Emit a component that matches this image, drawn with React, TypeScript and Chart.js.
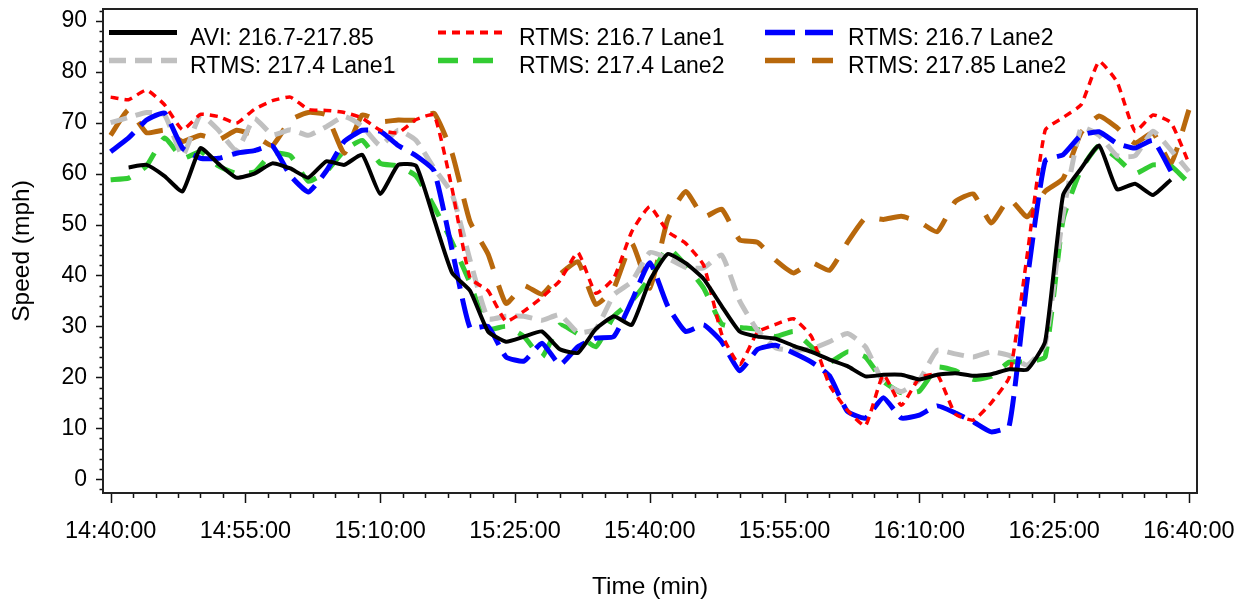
import React, { useEffect, useRef } from "react";
import { Chart, registerables } from "chart.js";

Chart.register(...registerables);

// Sample times, minutes after 14:40:00
const times = [
  0, 2, 4, 6, 8, 10, 12, 14, 16, 18,
  20, 22, 24, 26, 28, 30, 32, 34, 36, 38,
  40, 42, 44, 46, 48, 50, 52, 54, 56, 58,
  60, 62, 64, 66, 68, 70, 72, 74, 76, 78,
  80, 82, 84, 86, 88, 90, 92, 94, 96, 98,
  100, 102, 104, 106, 108, 110, 112, 114, 116, 118,
  120,
];

// Axis tick values
const timeTicks = [0, 15, 30, 45, 60, 75, 90, 105, 120];
const speedTicks = [0, 10, 20, 30, 40, 50, 60, 70, 80, 90];

// Speeds (mph)
const aviSpeed = [
  null, 61.2, 61.7, 59.5, 56.5, 65, 61.9, 59.2, 60, 62,
  61, 59.2, 62.4, 61.7, 63.7, 56, 61.7, 61.5, 51, 40.5,
  37, 29, 27, 28, 29, 25.5, 24.8, 29.5, 32, 30.3,
  39, 44.2, 42.4, 39.3, 34, 29, 28, 27.6, 26.2, 25,
  23.5, 22.2, 20.2, 20.5, 20.5, 19.6, 20.5, 20.8, 20.3, 20.6,
  21.6, 21.5, 27, 55.8, 61, 65.5, 56.9, 58, 55.8, 58.8,
  null,
];

const rtms2167Lane1 = [
  75, 74.5, 76.4, 73.5, 68.6, 71.6, 71.2, 69.9, 72.6, 74.3,
  75, 72.6, 72.4, 72, 70.9, 68.5, 68, 70.6, 71.5, 57,
  39.5, 37, 31, 33, 35.7, 39, 44.5, 36.5, 39.5, 48.6,
  53.5, 48.6, 46.3, 42, 28.5, 22.5, 28.9, 30.4, 31.5, 28,
  18.5, 13.5, 10.5, 20.5, 14.5, 19.9, 20.5, 12.8, 11.6, 15,
  20, 44, 68.5, 71, 73.5, 82, 78, 68.3, 71.5, 70,
  62,
];

const rtms2167Lane2 = [
  64.3, 67, 70.5, 71.9, 65, 63, 63, 64, 64.5, 65.4,
  59.6, 56.4, 60.5, 66.3, 68.5, 68.3, 65.5, 63.5, 60.5, 45,
  29.7, 30, 24, 23.2, 26.7, 22.5, 26, 27.7, 28, 35,
  42.5, 34, 29, 30.3, 27, 21.3, 25.5, 26.3, 24.8, 23,
  20.3, 13.3, 12, 16, 12, 12.6, 14.4, 13, 11.3, 9.3,
  10.5, 39, 62.5, 63.7, 67.5, 68.2, 65.9, 65, 66.5, 60.5,
  null,
];

const rtms2174Lane1 = [
  70, 71, 72, 71.5, 63.5, 71.5, 68.5, 64.5, 70.8, 67.6,
  68.6, 67.5, 69.2, 71.2, 69.3, 65.5, 68.5, 66.5, 61, 56,
  43, 31.5, 32, 32, 31.2, 32.3, 28.8, 29.5, 36.2, 38.8,
  44.5, 43.4, 41.6, 41.5, 44, 35, 29.2, 25.8, 25.3, 25.6,
  27, 28.6, 26, 19, 17.2, 19.5, 25.3, 24.6, 24, 25,
  24.3, 22.4, 26.5, 52, 69, 67.5, 63.5, 63.5, 68.3, 64.6,
  60.4,
];

const rtms2174Lane2 = [
  58.8, 59.1, 61.5, 67, 63, 64.3, 61.5, 60, 60.3, 64,
  63.5, 58.5, 60.4, 64.5, 66.5, 62, 61.5, 59.5, 53.5, 46.5,
  38.5, 29.5, 30, 28, 24, 30.3, 28.5, 26, 32, 35,
  39.5, 45.4, 42, 37.5, 30.5, 29.8, 29.4, 28, 29, 26,
  23, 25, 24, 19.2, 17, 17.3, 22, 21.3, 19.6, 20.2,
  23, 23, 24, 51, 60.8, 65.5, 63, 60, 61.7, 61.5,
  58.1,
];

const rtms21785Lane2 = [
  67.5, 72.5, 68, 68.5, 66.3, 67.5, 66.6, 68.5, 67.5, 65.5,
  70.5, 72, 71.5, 64, 71.5, 70.2, 70.5, 70.5, 71.8, 64,
  50.5, 44.2, 34.5, 38, 36.3, 40.2, 42.7, 34.3, 37.5, 46.3,
  37.5, 51, 56.5, 51.5, 53, 47, 46.5, 43, 40.5, 42.5,
  41, 46.5, 51.3, 51, 51.6, 50.5, 48.6, 54.5, 56, 50.3,
  55, 51.5, 56.5, 59, 68, 71.3, 69, 66, 68, 62,
  72.5,
];

const seriesLabels = [
  "AVI: 216.7-217.85",
  "RTMS: 216.7 Lane1",
  "RTMS: 216.7 Lane2",
  "RTMS: 217.4 Lane1",
  "RTMS: 217.4 Lane2",
  "RTMS: 217.85 Lane2",
];
const seriesData = [aviSpeed, rtms2167Lane1, rtms2167Lane2, rtms2174Lane1, rtms2174Lane2, rtms21785Lane2];
const seriesColors = ["#000000", "#ff0000", "#0000ff", "#c0c0c0", "#33cc33", "#b8680c"];
const seriesWidths = [4, 3.5, 5, 5, 5, 5];
const seriesDashes: number[][] = [[], [8, 6], [30, 10], [17, 9], [20, 15], [30, 17]];

const FONT = "'Liberation Sans', Arial, sans-serif";

function clockLabel(minutes: number): string {
  const total = 14 * 60 + 40 + minutes;
  const h = Math.floor(total / 60);
  const m = total % 60;
  return `${h}:${String(m).padStart(2, "0")}:00`;
}

// Keep the plot box where it is; labels have room outside it
function clearScalePadding(scale: any) {
  scale.paddingLeft = 0;
  scale.paddingRight = 0;
  scale.paddingTop = 0;
  scale.paddingBottom = 0;
}

// Frame, tick marks and the in-plot legend
const framePlugin = {
  id: "frameAndLegend",
  afterDraw(chart: any) {
    const { ctx, chartArea: a, scales } = chart;
    const xs = scales.x;
    const ys = scales.y;
    ctx.save();
    ctx.strokeStyle = "#111";
    ctx.lineWidth = 1.5;
    ctx.setLineDash([]);
    ctx.beginPath();
    for (let v = 0; v <= 120; v += 2.5) {
      const px = Math.round(xs.getPixelForValue(v)) + 0.5;
      const len = v % 15 === 0 ? 10 : 5;
      ctx.moveTo(px, a.bottom);
      ctx.lineTo(px, a.bottom + len);
    }
    for (let v = -2; v <= 92; v += 2) {
      const py = Math.round(ys.getPixelForValue(v)) + 0.5;
      if (py < a.top || py > a.bottom) continue;
      const len = v % 10 === 0 ? 7 : 3.5;
      ctx.moveTo(a.left - len, py);
      ctx.lineTo(a.left, py);
    }
    ctx.stroke();

    ctx.lineWidth = 2;
    ctx.strokeStyle = "#222";
    ctx.strokeRect(a.left, a.top, a.right - a.left, a.bottom - a.top);

    // legend: three columns, two rows
    const colLine = [109, 438, 765];
    const colText = [190, 519, 848];
    const rowLine = [32.5, 60.5];
    const rowText = [45, 73];
    const lineLen = 68;
    ctx.font = `23px ${FONT}`;
    ctx.textBaseline = "alphabetic";
    ctx.textAlign = "left";
    seriesLabels.forEach((label, i) => {
      const c = i % 3;
      const r = Math.floor(i / 3);
      ctx.beginPath();
      ctx.setLineDash(seriesDashes[i]);
      ctx.lineWidth = i === 0 ? 5 : seriesWidths[i] + 0.5;
      ctx.strokeStyle = seriesColors[i];
      ctx.lineCap = "butt";
      ctx.moveTo(colLine[c], rowLine[r]);
      ctx.lineTo(colLine[c] + lineLen, rowLine[r]);
      ctx.stroke();
      ctx.setLineDash([]);
      ctx.fillStyle = "#000";
      ctx.fillText(label, colText[c], rowText[r]);
    });
    ctx.restore();
  },
};

export default function App() {
  const canvasRef = useRef<HTMLCanvasElement | null>(null);

  useEffect(() => {
    const canvas = canvasRef.current;
    if (!canvas) return;
    const xTickFont = { family: FONT, size: 23.5 };
    const yTickFont = { family: FONT, size: 23 };
    const titleFont = { family: FONT, size: 24.5 };

    const datasets = seriesLabels.map((label, i) => ({
      label,
      data: times.map((t, k) => ({ x: t, y: seriesData[i][k] })),
      borderColor: seriesColors[i],
      backgroundColor: seriesColors[i],
      borderWidth: seriesWidths[i],
      borderDash: seriesDashes[i],
      borderCapStyle: "butt" as const,
      borderJoinStyle: "round" as const,
      pointRadius: 0,
      tension: 0.15,
      fill: false,
      spanGaps: false,
    }));

    const chart = new Chart(canvas, {
      type: "line",
      data: { datasets },
      options: {
        responsive: false,
        animation: false,
        events: [],
        layout: { padding: { top: 9, right: 48, left: 0, bottom: 0 } },
        plugins: {
          legend: { display: false },
          tooltip: { enabled: false },
        },
        scales: {
          x: {
            type: "linear",
            min: -0.85,
            max: 120.9,
            afterFit(scale: any) {
              scale.height = 110;
              clearScalePadding(scale);
            },
            afterBuildTicks(scale: any) {
              scale.ticks = timeTicks.map((v) => ({ value: v }));
            },
            grid: { display: false, drawTicks: false },
            border: { display: false },
            ticks: {
              padding: 24,
              font: xTickFont,
              color: "#000",
              maxRotation: 0,
              autoSkip: false,
              callback: (v: any) => clockLabel(Number(v)),
            },
            title: {
              display: true,
              text: "Time (min)",
              font: titleFont,
              color: "#000",
              padding: { top: 0, bottom: 1 },
            },
          },
          y: {
            type: "linear",
            min: -2.7,
            max: 92.3,
            afterFit(scale: any) {
              scale.width = 103;
              clearScalePadding(scale);
            },
            afterBuildTicks(scale: any) {
              scale.ticks = speedTicks.map((v) => ({ value: v }));
            },
            grid: { display: false, drawTicks: false },
            border: { display: false },
            ticks: {
              padding: 16,
              font: yTickFont,
              color: "#000",
              callback: (v: any) => String(v),
            },
            title: {
              display: true,
              text: "Speed (mph)",
              font: titleFont,
              color: "#000",
              padding: { top: 8, bottom: 0 },
            },
          },
        },
      },
      plugins: [framePlugin],
    });

    return () => chart.destroy();
  }, []);

  return (
    <div style={{ position: "absolute", left: 0, top: 0, width: 1245, height: 603, background: "#fff" }}>
      <canvas ref={canvasRef} width={1245} height={603} />
    </div>
  );
}
